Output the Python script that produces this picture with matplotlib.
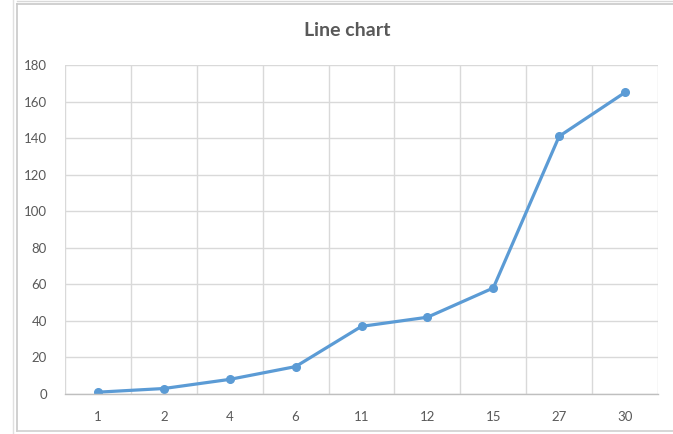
import matplotlib.pyplot as plt
from matplotlib.lines import Line2D
from matplotlib.ticker import FixedLocator

# Category labels and series values
categories = ['1', '2', '4', '6', '11', '12', '15', '27', '30']
values = [1, 3, 8, 15, 37, 42, 58, 141, 165]
y_ticks = [0, 20, 40, 60, 80, 100, 120, 140, 160, 180]

plt.rcParams['font.family'] = ['Lato', 'DejaVu Sans']

W, H = 673, 434
fig = plt.figure(figsize=(W / 100, H / 100), dpi=100)

# chart frame: left, top and bottom edges only
def frame_line(xs, ys, color, lw):
    fig.lines.append(Line2D([v / W for v in xs], [1 - v / H for v in ys],
                            transform=fig.transFigure, color=color, linewidth=lw))

frame_line([17, 17], [4, 431], '#c8c8c8', 1.2)
frame_line([13, 13], [0, 434], '#e0e0e0', 1.0)
frame_line([17, 673], [4, 4], '#c8c8c8', 1.2)
frame_line([17, 673], [1, 1], '#d8d8d8', 1.0)
frame_line([17, 673], [431, 431], '#d0d0d0', 1.2)

ax = fig.add_axes([65 / W, 40 / H, 593 / W, 329 / H])
x = list(range(len(categories)))
ax.plot(x, values, color='#5B9BD5', linewidth=2.3, marker='o', markersize=5.5,
        solid_capstyle='round')

ax.set_xlim(-0.5, len(categories) - 0.5)
ax.set_ylim(0, 180)
ax.set_xticks(x)
ax.set_xticklabels(categories)
ax.set_yticks(y_ticks)
ax.xaxis.set_minor_locator(FixedLocator([i - 0.5 for i in range(len(categories) + 1)]))

ax.grid(axis='y', which='major', color='#d9d9d9', linewidth=1)
ax.grid(axis='x', which='minor', color='#d9d9d9', linewidth=1)
ax.set_axisbelow(True)

for side in ['top', 'right', 'left']:
    ax.spines[side].set_visible(False)
ax.spines['bottom'].set_color('#bfbfbf')
ax.spines['bottom'].set_linewidth(1)

ax.tick_params(axis='both', which='both', length=0, colors='#595959', labelsize=9.5)
ax.tick_params(axis='y', pad=13)
ax.tick_params(axis='x', pad=12)

fig.text(347 / W, 1 - 31 / H, 'Line chart', ha='center', va='center',
         fontsize=14, fontweight='bold', color='#595959')

plt.savefig('out.png', dpi=100)
